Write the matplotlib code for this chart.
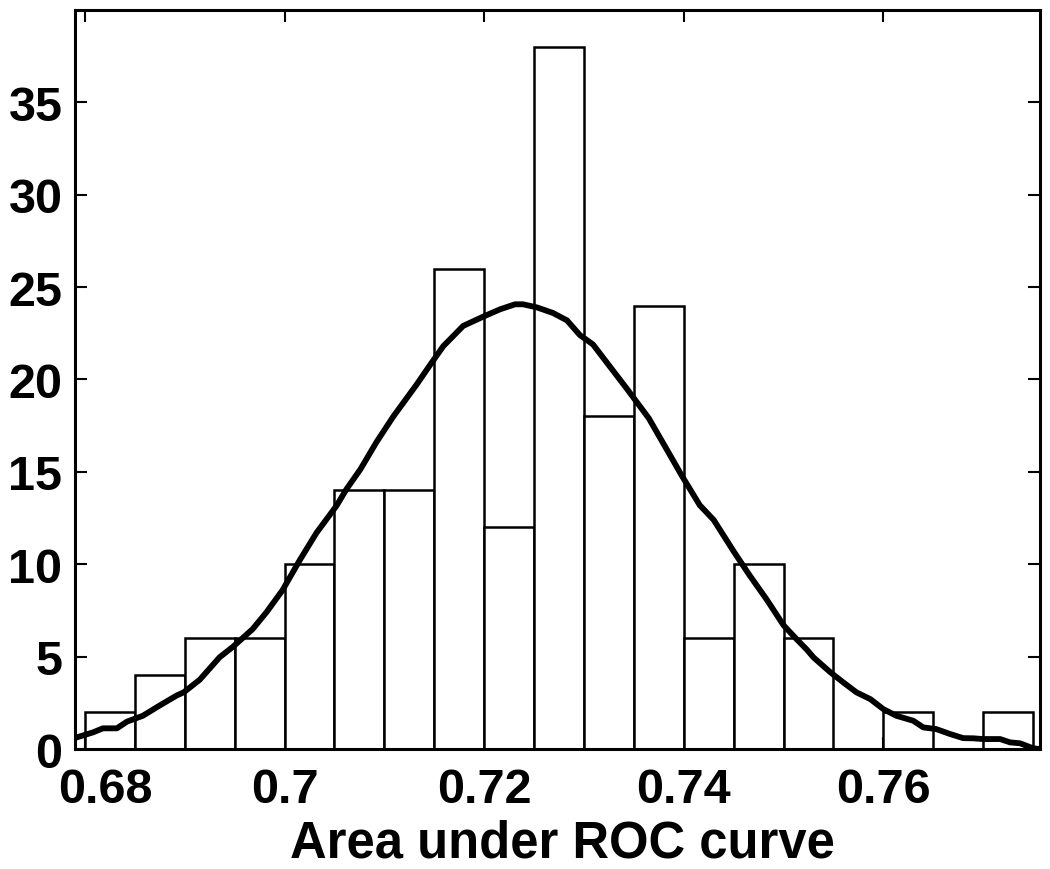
import numpy as np
import matplotlib
matplotlib.use("Agg")
import matplotlib.pyplot as plt
import matplotlib.transforms as mtrans

# histogram of AUC values, bins of width 0.005 starting at 0.68
bin_left = [0.680, 0.685, 0.690, 0.695, 0.700, 0.705, 0.710, 0.715, 0.720, 0.725,
            0.730, 0.735, 0.740, 0.745, 0.750, 0.755, 0.760, 0.765, 0.770]
counts = [2, 4, 6, 6, 10, 14, 14, 26, 12, 38, 18, 24, 6, 10, 6, 0, 2, 0, 2]
bin_width = 0.005

# smoothed density curve
curve_x = [0.6790, 0.6808, 0.6818, 0.6832, 0.6842, 0.6858, 0.6875, 0.6892, 0.6899,
           0.6915, 0.6935, 0.6948, 0.6968, 0.6982, 0.6998, 0.7015, 0.7032, 0.7052,
           0.7062, 0.7076, 0.7092, 0.7109, 0.7132, 0.7146, 0.7159, 0.7179, 0.7199,
           0.7216, 0.7231, 0.7239, 0.7253, 0.7269, 0.7283, 0.7296, 0.7309, 0.7326,
           0.7343, 0.7365, 0.7381, 0.7398, 0.7416, 0.7430, 0.7450, 0.7466, 0.7483,
           0.7500, 0.7513, 0.7523, 0.7530, 0.7547, 0.7560, 0.7573, 0.7587, 0.7600,
           0.7613, 0.7630, 0.7640, 0.7653, 0.7667, 0.7680, 0.7690, 0.7700, 0.7717,
           0.7727, 0.7737, 0.7750, 0.7757]
curve_y = [0.60, 0.90, 1.12, 1.12, 1.48, 1.80, 2.36, 2.90, 3.07,
           3.75, 4.97, 5.52, 6.49, 7.41, 8.60, 10.2, 11.7, 13.16,
           14.06, 15.14, 16.6, 18.0, 19.7, 20.8, 21.8, 22.9, 23.4,
           23.8, 24.07, 24.07, 23.9, 23.6, 23.2, 22.4, 21.9, 20.7,
           19.5, 17.9, 16.4, 14.8, 13.2, 12.4, 10.7, 9.4, 8.1,
           6.7, 5.95, 5.4, 4.96, 4.15, 3.6, 3.07, 2.7, 2.16,
           1.8, 1.53, 1.17, 1.08, 0.81, 0.59, 0.58, 0.54, 0.54,
           0.36, 0.31, 0.04, 0.0]

xticks = [0.68, 0.70, 0.72, 0.74, 0.76]
xtick_labels = ["0.68", "0.7", "0.72", "0.74", "0.76"]
yticks = [0, 5, 10, 15, 20, 25, 30, 35]

plt.rcParams['font.family'] = ['Liberation Sans', 'DejaVu Sans']
plt.rcParams['font.weight'] = 'bold'

fig = plt.figure(figsize=(10.5, 8.7), dpi=100)
ax = fig.add_axes([0.0714, 0.1379, 0.9191, 0.8495])

ax.bar(bin_left, counts, width=bin_width, align='edge', color='white',
       edgecolor='black', linewidth=1.8, zorder=2)
ax.plot(curve_x, curve_y, color='black', linewidth=4.2, zorder=3)

ax.set_xlim(0.679, 0.7757)
ax.set_ylim(0, 40)
ax.set_xticks(xticks)
ax.set_xticklabels(xtick_labels)
ax.set_yticks(yticks)

ax.tick_params(direction='in', length=8.6, width=1.5, top=True, right=True,
               labelsize=35, zorder=4)
ax.tick_params(axis='x', pad=13)
ax.tick_params(axis='y', pad=9)
for sp in ax.spines.values():
    sp.set_linewidth(2.2)
    sp.set_zorder(5)

ax.set_xlabel("Area under ROC curve", fontsize=36.5, fontweight='bold')
ax.xaxis.set_label_coords(0.505, -0.146)
ax.xaxis.label.set_va('baseline')

# the first x label sits a bit right of its tick in the original
shift = mtrans.ScaledTranslation(0.2, 0, fig.dpi_scale_trans)
lab0 = ax.xaxis.get_majorticklabels()[0]
lab0.set_transform(lab0.get_transform() + shift)

fig.savefig("out.png", dpi=100)
